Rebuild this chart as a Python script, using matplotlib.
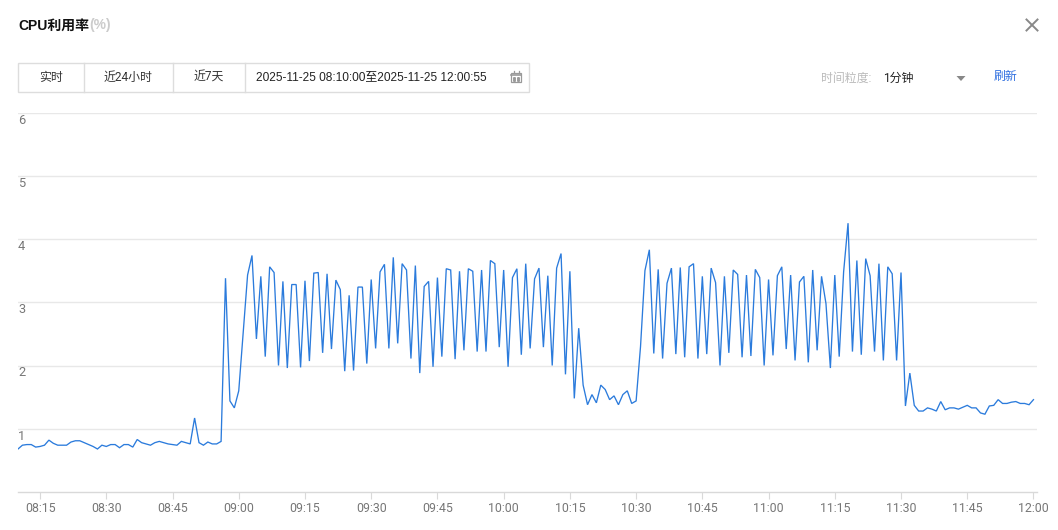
"""
plot.py
CPU usage panel: one-minute line chart with the time range bar above it.
"""
import matplotlib.pyplot as plt
from matplotlib.patches import Rectangle, Polygon
import numpy as np

plt.rcParams["font.family"] = ["Roboto", "Noto Sans CJK SC", "DejaVu Sans"]

WIDTH, HEIGHT = 1058, 530

# one value per minute, starting at 08:10
CPU_USAGE = [
    0.68, 0.74, 0.75, 0.75, 0.71, 0.72, 0.74, 0.82, 0.77, 0.74,
    0.74, 0.74, 0.79, 0.81, 0.81, 0.78, 0.75, 0.72, 0.68, 0.74,
    0.72, 0.75, 0.75, 0.70, 0.75, 0.75, 0.71, 0.83, 0.78, 0.76,
    0.74, 0.78, 0.80, 0.78, 0.76, 0.75, 0.74, 0.80, 0.78, 0.76,
    1.17, 0.78, 0.74, 0.79, 0.76, 0.76, 0.80, 3.38, 1.44, 1.33,
    1.60, 2.51, 3.43, 3.74, 2.42, 3.41, 2.14, 3.56, 3.47, 2.00,
    3.33, 1.96, 3.28, 3.28, 1.97, 3.34, 2.07, 3.46, 3.47, 2.20,
    3.45, 2.26, 3.35, 3.20, 1.91, 3.11, 1.92, 3.24, 3.24, 2.03,
    3.36, 2.27, 3.48, 3.60, 2.27, 3.71, 2.35, 3.61, 3.51, 2.11,
    3.58, 1.88, 3.25, 3.33, 1.98, 3.39, 2.14, 3.53, 3.51, 2.10,
    3.49, 2.24, 3.53, 3.49, 2.22, 3.51, 2.22, 3.66, 3.61, 2.29,
    3.51, 1.98, 3.39, 3.53, 2.17, 3.61, 2.27, 3.37, 3.54, 2.29,
    3.42, 2.00, 3.54, 3.77, 1.86, 3.49, 1.48, 2.59, 1.69, 1.38,
    1.54, 1.41, 1.69, 1.62, 1.46, 1.52, 1.38, 1.54, 1.60, 1.40,
    1.44, 2.30, 3.50, 3.83, 2.19, 3.52, 2.11, 3.30, 3.54, 2.18,
    3.55, 2.13, 3.56, 3.61, 2.11, 3.41, 2.18, 3.54, 3.31, 2.00,
    3.41, 2.20, 3.51, 3.44, 2.13, 3.43, 2.15, 3.52, 3.39, 2.00,
    3.36, 2.16, 3.42, 3.56, 2.26, 3.43, 2.08, 3.32, 3.41, 2.05,
    3.51, 2.24, 3.41, 2.98, 1.96, 3.43, 2.14, 3.48, 4.25, 2.22,
    3.66, 2.17, 3.69, 3.42, 2.22, 3.61, 2.08, 3.56, 3.45, 2.08,
    3.47, 1.36, 1.88, 1.37, 1.28, 1.28, 1.33, 1.31, 1.28, 1.43,
    1.30, 1.33, 1.33, 1.31, 1.34, 1.37, 1.33, 1.33, 1.25, 1.23,
    1.36, 1.37, 1.46, 1.40, 1.40, 1.42, 1.43, 1.40, 1.40, 1.38,
    1.46,
]
X_TICK_LABELS = ["08:15", "08:30", "08:45", "09:00", "09:15", "09:30", "09:45",
                 "10:00", "10:15", "10:30", "10:45", "11:00", "11:15", "11:30",
                 "11:45", "12:00"]
Y_TICKS = [1, 2, 3, 4, 5, 6]
RANGE_TABS = ["实时", "近24小时", "近7天"]
TAB_EDGES = [18, 84, 173, 245, 529]
DATE_RANGE = "2025-11-25 08:10:00至2025-11-25 12:00:55"

LINE_COLOR = "#2b7bdc"
GRID_COLOR = "#e8e8e8"
AXIS_COLOR = "#d9d9d9"
TICK_TEXT = "#777777"


def box(x0, y0, x1, y1):
    # figure fraction rectangle from pixel edges, y measured from the top
    return [x0 / WIDTH, 1 - y1 / HEIGHT, (x1 - x0) / WIDTH, (y1 - y0) / HEIGHT]


fig = plt.figure(figsize=(WIDTH / 100, HEIGHT / 100), dpi=100, facecolor="white")

# chart
ax = fig.add_axes(box(18, 112.5, 1037, 492))
minutes = np.arange(len(CPU_USAGE))
ax.plot(minutes, CPU_USAGE, color=LINE_COLOR, linewidth=0.95, solid_joinstyle="miter")
ax.set_xlim(0, 230.8)
ax.set_ylim(0, 6)
ax.set_xticks(5 + 15 * np.arange(len(X_TICK_LABELS)))
ax.set_xticklabels(X_TICK_LABELS, fontsize=8.9, color=TICK_TEXT)
ax.set_yticks(Y_TICKS)
ax.set_yticklabels([])
ax.tick_params(axis="x", length=5, width=0.8, color=AXIS_COLOR, pad=2)
ax.tick_params(axis="y", length=0)
ax.yaxis.grid(True, color=GRID_COLOR, linewidth=1)
ax.set_axisbelow(True)
ax.spines[["top", "right", "left"]].set_visible(False)
ax.spines["bottom"].set_color(AXIS_COLOR)
ax.spines["bottom"].set_linewidth(1)

# y labels sit just under their grid lines, flush left
for v in Y_TICKS:
    ax.annotate(str(v), (0, v), xytext=(0, -5.4), textcoords="offset points",
                fontsize=9.2, color=TICK_TEXT, ha="left", va="center")

# page furniture, drawn in pixel coordinates
ui = fig.add_axes([0, 0, 1, 1], zorder=5)
ui.set_xlim(0, WIDTH)
ui.set_ylim(HEIGHT, 0)
ui.axis("off")
ui.patch.set_alpha(0)

ui.text(18, 25.5, "CPU利用率", fontsize=10, fontweight="bold", color="#111111", va="center",
        family=["Liberation Sans", "Noto Sans CJK SC"])
ui.text(89, 25.5, "(%)", fontsize=10, fontweight="bold", color="#cccccc", va="center",
        family=["Liberation Sans", "Noto Sans CJK SC"])

# close button
ui.plot([1026.5, 1037.5], [19.5, 30.5], color="#888888", linewidth=1.4)
ui.plot([1026.5, 1037.5], [30.5, 19.5], color="#888888", linewidth=1.4)

# range selector
ui.add_patch(Rectangle((TAB_EDGES[0], 62.5), TAB_EDGES[-1] - TAB_EDGES[0], 29,
                       fill=False, edgecolor="#dddddd", linewidth=1))
for edge in TAB_EDGES[1:-1]:
    ui.plot([edge, edge], [63, 92], color="#dddddd", linewidth=1)
for label, left, right in zip(RANGE_TABS, TAB_EDGES[:-1], TAB_EDGES[1:-1]):
    ui.text((left + right) / 2 - 0.5, 77.5, label, fontsize=8.6, color="#333333", ha="center", va="center")
ui.text(256, 77.5, DATE_RANGE, fontsize=8.6, color="#222222", va="center",
        family=["Liberation Sans", "Noto Sans CJK SC"])

# calendar icon
ICON = "#999999"
ui.add_patch(Rectangle((511, 72.5), 10, 9.5, fill=False, edgecolor=ICON, linewidth=0.9))
ui.plot([511, 521], [75, 75], color=ICON, linewidth=1.2)
ui.plot([513.5, 513.5], [71, 73], color=ICON, linewidth=0.9)
ui.plot([518.5, 518.5], [71, 73], color=ICON, linewidth=0.9)
ui.plot([514, 518, 514, 518], [77.5, 77.5, 80, 80], ls="", marker="s", ms=1.1, color=ICON)

# granularity picker
ui.text(820.5, 78, "时间粒度:", fontsize=8.6, color="#bbbbbb", va="center")
ui.text(883.5, 78.5, "1分钟", fontsize=8.6, color="#222222", va="center")
ui.add_patch(Polygon([(956.5, 76), (965.5, 76), (961, 81)], closed=True, color="#888888", lw=0))
ui.text(994, 76.5, "刷新", fontsize=8.6, color="#2f6fe0", va="center")

fig.savefig("out.png", dpi=100)
